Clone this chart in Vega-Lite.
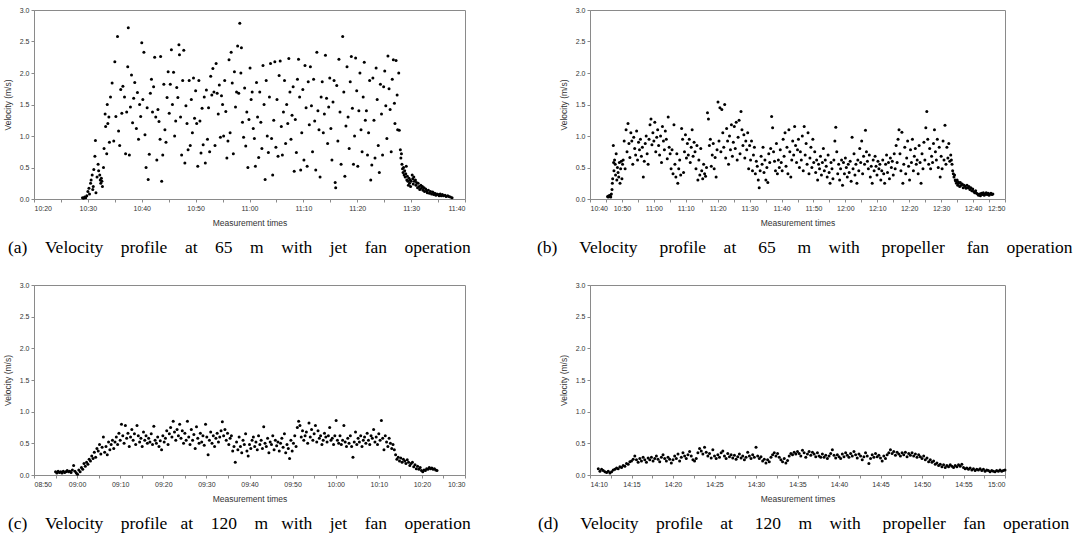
{
"$schema": "https://vega.github.io/schema/vega-lite/v6.json",
"background": "white",
"padding": {"left": 2, "top": 5, "right": 5, "bottom": 5},
"config": {
  "view": {"stroke": "#8a8a8a", "strokeWidth": 1},
  "axis": {"labelFont": "Liberation Sans Narrow, Liberation Sans, sans-serif", "labelFontSize": 7, "labelColor": "#333", "titleFont": "Liberation Sans Narrow, Liberation Sans, sans-serif", "titleFontSize": 8.5, "titleFontWeight": "normal", "titleColor": "#333", "domainColor": "#8a8a8a", "tickColor": "#8a8a8a", "tickSize": 3, "grid": false, "labelPadding": 2, "titlePadding": 7},
  "title": {"font": "Liberation Serif", "fontSize": 17.5, "fontWeight": "normal", "color": "#000", "orient": "bottom", "anchor": "start", "frame": "group", "offset": 12},
  "point": {"filled": true, "size": 9, "color": "#000", "opacity": 1}
},
"columns": 2,
"spacing": {"row": 86, "column": 125},
"bounds": "flush",
"datasets": {
"a": [
{"t":629.0,"v":0.02},{"t":629.2,"v":0.01},{"t":629.4,"v":0.03},{"t":629.6,"v":0.02},{"t":629.8,"v":0.05},{"t":630.0,"v":0.12},{"t":630.2,"v":0.17},{"t":630.3,"v":0.08},{"t":630.5,"v":0.25},{"t":630.6,"v":0.3},{"t":630.8,"v":0.38},{"t":630.9,"v":0.15},{"t":631.0,"v":0.2},{"t":631.1,"v":0.47},{"t":631.3,"v":0.68},{"t":631.4,"v":0.93},{"t":631.5,"v":0.1},{"t":631.7,"v":0.35},{"t":631.9,"v":0.55},{"t":632.0,"v":0.45},{"t":632.2,"v":0.38},{"t":632.3,"v":0.3},{"t":632.4,"v":0.25},{"t":632.5,"v":0.33},{"t":632.6,"v":0.28},{"t":632.7,"v":0.2},{"t":632.9,"v":0.5},{"t":633.0,"v":0.8},{"t":633.2,"v":1.35},{"t":633.3,"v":1.15},{"t":633.5,"v":0.72},{"t":633.6,"v":1.5},{"t":633.7,"v":1.2},{"t":633.9,"v":1.3},{"t":634.0,"v":0.9},
{"t":634.2,"v":1.62},{"t":634.5,"v":1.84},{"t":634.8,"v":0.92},{"t":635.0,"v":2.18},{"t":635.2,"v":1.31},{"t":635.5,"v":2.58},{"t":635.7,"v":1.08},{"t":635.9,"v":0.85},{"t":636.1,"v":1.74},{"t":636.3,"v":1.36},{"t":636.5,"v":1.79},{"t":636.8,"v":1.62},{"t":637.0,"v":0.72},{"t":637.2,"v":1.38},{"t":637.4,"v":2.1},{"t":637.5,"v":2.72},{"t":637.7,"v":0.7},{"t":637.9,"v":1.46},{"t":638.1,"v":1.97},{"t":638.3,"v":1.21},{"t":638.5,"v":1.6},{"t":638.7,"v":1.85},{"t":639.0,"v":1.12},{"t":639.2,"v":1.69},{"t":639.4,"v":0.95},{"t":639.6,"v":1.5},{"t":639.8,"v":1.31},{"t":640.0,"v":2.48},{"t":640.2,"v":1.58},{"t":640.4,"v":2.33},{"t":640.6,"v":1.02},{"t":640.8,"v":0.5},{"t":641.0,"v":1.45},{"t":641.2,"v":0.31},{"t":641.4,"v":0.71},{"t":641.6,"v":1.68},{"t":641.8,"v":1.9},{"t":642.0,"v":1.38},{"t":642.2,"v":1.78},{"t":642.4,"v":2.25},{"t":642.6,"v":1.3},{"t":642.8,"v":0.62},{"t":643.0,"v":1.42},{"t":643.2,"v":1.23},{"t":643.4,"v":0.95},{"t":643.5,"v":2.26},{"t":643.7,"v":0.28},{"t":643.9,"v":0.7},{"t":644.1,"v":1.82},{"t":644.3,"v":1.1},{"t":644.5,"v":0.9},{"t":644.7,"v":1.61},{"t":644.9,"v":2.02},{"t":645.1,"v":1.36},{"t":645.3,"v":1.82},{"t":645.5,"v":2.37},{"t":645.7,"v":1.5},{"t":645.9,"v":2.01},{"t":646.1,"v":1.0},{"t":646.3,"v":1.24},{"t":646.5,"v":1.77},{"t":646.7,"v":1.61},{"t":646.9,"v":2.45},{"t":647.0,"v":2.29},{"t":647.2,"v":1.3},{"t":647.4,"v":0.7},{"t":647.6,"v":1.88},{"t":647.8,"v":2.36},{"t":648.0,"v":0.57},{"t":648.2,"v":1.48},{"t":648.4,"v":1.2},{"t":648.6,"v":0.78},{"t":648.8,"v":1.88},{"t":649.0,"v":0.85},{"t":649.2,"v":1.58},{"t":649.4,"v":1.05},{"t":649.6,"v":1.92},{"t":649.8,"v":1.28},{"t":650.0,"v":1.72},{"t":650.2,"v":1.2},{"t":650.4,"v":0.52},{"t":650.6,"v":1.88},{"t":650.8,"v":1.24},{"t":651.0,"v":0.73},{"t":651.2,"v":1.44},{"t":651.4,"v":0.86},{"t":651.6,"v":1.62},{"t":651.8,"v":0.57},{"t":652.0,"v":1.73},{"t":652.2,"v":0.95},{"t":652.4,"v":1.45},{"t":652.6,"v":0.75},{"t":652.8,"v":1.95},{"t":653.0,"v":1.65},{"t":653.2,"v":2.07},{"t":653.4,"v":1.7},{"t":653.6,"v":0.85},{"t":653.8,"v":2.15},{"t":654.0,"v":1.68},{"t":654.2,"v":1.35},{"t":654.4,"v":1.81},{"t":654.6,"v":0.98},{"t":654.8,"v":1.64},{"t":655.0,"v":1.5},{"t":655.2,"v":1.0},{"t":655.4,"v":1.88},{"t":655.6,"v":1.39},{"t":655.8,"v":0.65},{"t":656.0,"v":0.92},{"t":656.2,"v":2.21},{"t":656.4,"v":1.05},{"t":656.6,"v":2.33},{"t":656.8,"v":1.84},{"t":657.0,"v":0.72},{"t":657.2,"v":2.02},{"t":657.4,"v":1.46},{"t":657.6,"v":1.7},{"t":657.8,"v":2.43},{"t":658.0,"v":1.68},{"t":658.2,"v":2.79},{"t":658.4,"v":2.0},{"t":658.5,"v":2.4},{"t":658.7,"v":1.22},{"t":658.9,"v":0.98},{"t":659.1,"v":1.76},{"t":659.3,"v":0.84},{"t":659.5,"v":1.38},{"t":659.7,"v":0.5},{"t":659.9,"v":1.26},{"t":660.1,"v":2.08},{"t":660.3,"v":1.58},{"t":660.5,"v":1.7},{"t":660.7,"v":1.12},{"t":660.9,"v":0.96},{"t":661.1,"v":0.52},{"t":661.3,"v":1.85},{"t":661.5,"v":1.3},{"t":661.7,"v":0.66},{"t":661.9,"v":1.7},{"t":662.1,"v":1.22},{"t":662.3,"v":0.8},{"t":662.5,"v":2.12},{"t":662.7,"v":1.5},{"t":662.9,"v":0.31},{"t":663.1,"v":1.88},{"t":663.3,"v":1.0},{"t":663.5,"v":0.74},{"t":663.7,"v":1.62},{"t":663.9,"v":2.15},{"t":664.1,"v":0.96},{"t":664.3,"v":0.38},{"t":664.5,"v":1.25},{"t":664.7,"v":2.18},{"t":664.9,"v":0.82},{"t":665.1,"v":1.58},{"t":665.3,"v":0.68},{"t":665.5,"v":1.96},{"t":665.7,"v":2.19},{"t":665.9,"v":1.15},{"t":666.1,"v":0.7},{"t":666.3,"v":1.38},{"t":666.5,"v":1.88},{"t":666.7,"v":0.88},{"t":666.9,"v":1.5},{"t":667.1,"v":1.2},{"t":667.3,"v":2.23},{"t":667.5,"v":1.7},{"t":667.7,"v":0.95},{"t":667.9,"v":1.33},{"t":668.1,"v":1.78},{"t":668.3,"v":0.44},{"t":668.5,"v":1.26},{"t":668.7,"v":0.74},{"t":668.9,"v":1.9},{"t":669.1,"v":2.22},{"t":669.3,"v":1.62},{"t":669.5,"v":0.46},{"t":669.7,"v":1.05},{"t":669.9,"v":1.74},{"t":670.1,"v":0.62},{"t":670.3,"v":2.12},{"t":670.5,"v":1.45},{"t":670.7,"v":0.52},{"t":670.9,"v":1.86},{"t":671.1,"v":1.18},{"t":671.3,"v":2.1},{"t":671.5,"v":1.48},{"t":671.7,"v":0.75},{"t":671.9,"v":1.9},{"t":672.1,"v":1.24},{"t":672.3,"v":0.46},{"t":672.5,"v":2.33},{"t":672.7,"v":1.4},{"t":672.9,"v":1.1},{"t":673.1,"v":0.35},{"t":673.3,"v":1.62},{"t":673.5,"v":1.86},{"t":673.7,"v":1.05},{"t":673.9,"v":1.35},{"t":674.1,"v":2.28},{"t":674.3,"v":1.6},{"t":674.5,"v":0.88},{"t":674.7,"v":1.46},{"t":674.9,"v":1.92},{"t":675.1,"v":1.12},{"t":675.3,"v":0.62},{"t":675.5,"v":1.54},{"t":675.7,"v":1.88},{"t":675.9,"v":0.26},{"t":676.0,"v":0.18},{"t":676.2,"v":1.8},{"t":676.4,"v":0.92},{"t":676.6,"v":2.22},{"t":676.8,"v":1.38},{"t":677.0,"v":0.55},{"t":677.3,"v":2.58},{"t":677.5,"v":1.7},{"t":677.7,"v":0.36},{"t":677.9,"v":1.16},{"t":678.1,"v":2.1},{"t":678.3,"v":1.3},{"t":678.5,"v":0.8},{"t":678.7,"v":1.86},{"t":678.9,"v":2.26},{"t":679.1,"v":1.44},{"t":679.3,"v":0.55},{"t":679.5,"v":1.0},{"t":679.7,"v":2.24},{"t":679.9,"v":1.72},{"t":680.1,"v":0.52},{"t":680.3,"v":1.4},{"t":680.5,"v":2.0},{"t":680.7,"v":1.1},{"t":680.9,"v":0.75},{"t":681.1,"v":1.62},{"t":681.3,"v":2.17},{"t":681.5,"v":1.25},{"t":681.7,"v":1.4},{"t":681.9,"v":0.7},{"t":682.1,"v":1.05},{"t":682.3,"v":1.88},{"t":682.5,"v":0.3},{"t":682.7,"v":0.54},{"t":682.9,"v":1.92},{"t":683.1,"v":1.25},{"t":683.3,"v":0.65},{"t":683.5,"v":2.08},{"t":683.7,"v":1.58},{"t":683.9,"v":0.85},{"t":684.1,"v":0.42},{"t":684.3,"v":1.82},{"t":684.5,"v":1.35},{"t":684.7,"v":0.7},{"t":684.9,"v":1.78},{"t":685.1,"v":2.03},{"t":685.3,"v":1.48},{"t":685.5,"v":0.96},{"t":685.7,"v":2.27},{"t":685.9,"v":1.75},{"t":686.1,"v":1.42},{"t":686.3,"v":0.75},{"t":686.5,"v":1.9},{"t":686.7,"v":2.21},{"t":686.9,"v":1.52},{"t":687.0,"v":1.2},{"t":687.2,"v":2.2},{"t":687.4,"v":1.65},{"t":687.5,"v":1.1},{"t":687.7,"v":2.0},{"t":687.8,"v":1.09},{"t":688.0,"v":0.78},
{"t":688.1,"v":0.65},{"t":688.2,"v":0.72},{"t":688.3,"v":0.55},{"t":688.4,"v":0.48},{"t":688.5,"v":0.42},{"t":688.6,"v":0.5},{"t":688.7,"v":0.38},{"t":688.8,"v":0.45},{"t":688.9,"v":0.35},{"t":689.0,"v":0.4},{"t":689.1,"v":0.52},{"t":689.2,"v":0.3},{"t":689.3,"v":0.36},{"t":689.4,"v":0.28},{"t":689.5,"v":0.22},{"t":689.6,"v":0.33},{"t":689.7,"v":0.25},{"t":689.8,"v":0.3},{"t":689.9,"v":0.2},{"t":690.0,"v":0.28},{"t":690.2,"v":0.38},{"t":690.3,"v":0.32},{"t":690.4,"v":0.24},{"t":690.5,"v":0.35},{"t":690.6,"v":0.28},{"t":690.8,"v":0.3},{"t":690.9,"v":0.22},{"t":691.0,"v":0.26},{"t":691.2,"v":0.18},{"t":691.3,"v":0.25},{"t":691.5,"v":0.2},{"t":691.6,"v":0.15},{"t":691.8,"v":0.22},{"t":691.9,"v":0.17},{"t":692.1,"v":0.2},{"t":692.2,"v":0.14},{"t":692.4,"v":0.18},{"t":692.5,"v":0.12},{"t":692.7,"v":0.16},{"t":692.9,"v":0.13},{"t":693.0,"v":0.1},{"t":693.2,"v":0.14},{"t":693.4,"v":0.09},{"t":693.6,"v":0.12},{"t":693.8,"v":0.08},{"t":694.0,"v":0.11},{"t":694.2,"v":0.07},{"t":694.4,"v":0.09},{"t":694.6,"v":0.06},{"t":694.8,"v":0.08},{"t":695.0,"v":0.07},{"t":695.2,"v":0.05},{"t":695.4,"v":0.08},{"t":695.6,"v":0.05},{"t":695.8,"v":0.07},{"t":696.0,"v":0.05},{"t":696.3,"v":0.06},{"t":696.5,"v":0.04},{"t":696.8,"v":0.05},{"t":697.0,"v":0.04},{"t":697.3,"v":0.03},{"t":697.6,"v":0.02}
],
"b": [
{"t":645.5,"v":0.04},{"t":645.7,"v":0.03},{"t":645.9,"v":0.05},{"t":646.1,"v":0.04},{"t":646.3,"v":0.06},{"t":646.5,"v":0.03},{"t":646.7,"v":0.08},{"t":646.9,"v":0.15},{"t":647.0,"v":0.25},{"t":647.1,"v":0.32},{"t":647.3,"v":0.85},{"t":647.4,"v":0.58},{"t":647.5,"v":0.45},{"t":647.7,"v":0.62},{"t":647.9,"v":0.55},{"t":648.0,"v":0.38},{"t":648.2,"v":0.72},{"t":648.4,"v":0.3},{"t":648.6,"v":0.5},{"t":648.8,"v":0.42},{"t":649.0,"v":0.35},{"t":649.2,"v":0.58},{"t":649.4,"v":0.25},{"t":649.6,"v":0.48},{"t":649.8,"v":0.6},{"t":650.0,"v":0.32},{"t":650.2,"v":0.55},
{"t":650.4,"v":0.62},{"t":650.7,"v":0.92},{"t":651.0,"v":0.48},{"t":651.3,"v":1.1},{"t":651.6,"v":0.75},{"t":651.9,"v":1.2},{"t":652.2,"v":0.88},{"t":652.5,"v":0.66},{"t":652.8,"v":1.05},{"t":653.1,"v":0.92},{"t":653.4,"v":0.55},{"t":653.7,"v":0.98},{"t":654.0,"v":0.8},{"t":654.3,"v":0.7},{"t":654.6,"v":1.08},{"t":654.9,"v":0.62},{"t":655.2,"v":0.9},{"t":655.5,"v":0.78},{"t":655.8,"v":0.95},{"t":656.1,"v":0.68},{"t":656.4,"v":0.82},{"t":656.7,"v":0.35},{"t":657.0,"v":0.6},{"t":657.3,"v":0.88},{"t":657.6,"v":1.0},{"t":657.9,"v":0.72},{"t":658.2,"v":0.55},{"t":658.5,"v":0.95},{"t":658.8,"v":1.18},{"t":659.1,"v":1.27},{"t":659.4,"v":0.86},{"t":659.7,"v":1.05},{"t":660.0,"v":0.92},{"t":660.3,"v":1.22},{"t":660.6,"v":0.75},{"t":660.9,"v":0.98},{"t":661.2,"v":1.1},{"t":661.5,"v":0.85},{"t":661.8,"v":0.7},{"t":662.1,"v":1.0},{"t":662.4,"v":0.58},{"t":662.7,"v":1.15},{"t":663.0,"v":0.92},{"t":663.3,"v":0.78},{"t":663.6,"v":1.08},{"t":663.9,"v":0.95},{"t":664.2,"v":0.64},{"t":664.5,"v":1.3},{"t":664.8,"v":0.82},{"t":665.1,"v":0.72},{"t":665.4,"v":0.48},{"t":665.7,"v":0.78},{"t":666.0,"v":0.4},{"t":666.3,"v":1.18},{"t":666.6,"v":0.55},{"t":666.9,"v":0.35},{"t":667.2,"v":0.72},{"t":667.5,"v":0.25},{"t":667.8,"v":0.48},{"t":668.1,"v":0.62},{"t":668.4,"v":0.38},{"t":668.7,"v":1.12},{"t":669.0,"v":0.95},{"t":669.3,"v":0.42},{"t":669.6,"v":0.75},{"t":669.9,"v":1.02},{"t":670.2,"v":0.65},{"t":670.5,"v":0.88},{"t":670.8,"v":0.7},{"t":671.1,"v":0.95},{"t":671.4,"v":0.58},{"t":671.7,"v":0.82},{"t":672.0,"v":1.1},{"t":672.3,"v":0.68},{"t":672.6,"v":0.9},{"t":672.9,"v":0.75},{"t":673.2,"v":0.48},{"t":673.5,"v":0.85},{"t":673.8,"v":0.3},{"t":674.1,"v":0.62},{"t":674.4,"v":0.38},{"t":674.7,"v":0.8},{"t":675.0,"v":0.45},{"t":675.3,"v":0.32},{"t":675.6,"v":0.55},{"t":675.9,"v":0.4},{"t":676.2,"v":0.36},{"t":676.5,"v":0.5},{"t":676.8,"v":1.37},{"t":677.1,"v":1.27},{"t":677.4,"v":0.85},{"t":677.7,"v":0.95},{"t":678.0,"v":0.52},{"t":678.3,"v":0.7},{"t":678.6,"v":0.88},{"t":678.9,"v":0.48},{"t":679.2,"v":0.66},{"t":679.5,"v":0.35},{"t":679.8,"v":0.78},{"t":680.1,"v":1.54},{"t":680.4,"v":0.92},{"t":680.7,"v":1.45},{"t":681.0,"v":0.75},{"t":681.3,"v":1.42},{"t":681.6,"v":1.05},{"t":681.9,"v":0.82},{"t":682.2,"v":1.5},{"t":682.5,"v":0.65},{"t":682.8,"v":1.12},{"t":683.1,"v":0.92},{"t":683.4,"v":0.55},{"t":683.7,"v":1.0},{"t":684.0,"v":0.78},{"t":684.3,"v":1.18},{"t":684.6,"v":0.68},{"t":684.9,"v":0.9},{"t":685.2,"v":1.15},{"t":685.5,"v":0.8},{"t":685.8,"v":1.22},{"t":686.1,"v":0.62},{"t":686.4,"v":0.98},{"t":686.7,"v":1.25},{"t":687.0,"v":0.72},{"t":687.3,"v":1.39},{"t":687.6,"v":1.1},{"t":687.9,"v":0.85},{"t":688.2,"v":1.02},{"t":688.5,"v":0.65},{"t":688.8,"v":0.92},{"t":689.1,"v":0.78},{"t":689.4,"v":1.05},{"t":689.7,"v":0.48},{"t":690.0,"v":0.85},{"t":690.3,"v":0.62},{"t":690.6,"v":0.92},{"t":690.9,"v":0.45},{"t":691.2,"v":0.7},{"t":691.5,"v":0.82},{"t":691.8,"v":0.4},{"t":692.1,"v":0.6},{"t":692.4,"v":0.52},{"t":692.7,"v":0.3},{"t":693.0,"v":0.18},{"t":693.3,"v":0.45},{"t":693.6,"v":0.68},{"t":693.9,"v":0.55},{"t":694.2,"v":0.82},{"t":694.5,"v":0.42},{"t":694.8,"v":0.62},{"t":695.1,"v":0.3},{"t":695.4,"v":0.5},{"t":695.7,"v":0.26},{"t":696.0,"v":0.72},{"t":696.3,"v":0.58},{"t":696.6,"v":0.8},{"t":696.9,"v":1.31},{"t":697.2,"v":1.13},{"t":697.5,"v":0.75},{"t":697.8,"v":0.6},{"t":698.1,"v":0.45},{"t":698.4,"v":0.88},{"t":698.7,"v":0.4},{"t":699.0,"v":0.62},{"t":699.3,"v":0.5},{"t":699.6,"v":0.78},{"t":699.9,"v":0.58},{"t":700.2,"v":0.45},{"t":700.5,"v":0.95},{"t":700.8,"v":0.68},{"t":701.1,"v":1.05},{"t":701.4,"v":0.52},{"t":701.7,"v":0.82},{"t":702.0,"v":0.4},{"t":702.3,"v":1.1},{"t":702.6,"v":0.75},{"t":702.9,"v":0.35},{"t":703.2,"v":0.62},{"t":703.5,"v":0.92},{"t":703.8,"v":0.7},{"t":704.1,"v":1.15},{"t":704.4,"v":0.85},{"t":704.7,"v":0.58},{"t":705.0,"v":0.78},{"t":705.3,"v":0.95},{"t":705.6,"v":0.5},{"t":705.9,"v":0.75},{"t":706.2,"v":0.62},{"t":706.5,"v":1.0},{"t":706.8,"v":0.45},{"t":707.1,"v":1.15},{"t":707.4,"v":0.7},{"t":707.7,"v":0.88},{"t":708.0,"v":0.55},{"t":708.3,"v":1.05},{"t":708.6,"v":0.4},{"t":708.9,"v":0.65},{"t":709.2,"v":0.82},{"t":709.5,"v":0.5},{"t":709.8,"v":0.95},{"t":710.1,"v":0.58},{"t":710.4,"v":0.75},{"t":710.7,"v":0.42},{"t":711.0,"v":0.62},{"t":711.3,"v":0.3},{"t":711.6,"v":0.55},{"t":711.9,"v":0.48},{"t":712.2,"v":0.68},{"t":712.5,"v":0.38},{"t":712.8,"v":0.58},{"t":713.1,"v":0.8},{"t":713.4,"v":0.45},{"t":713.7,"v":0.62},{"t":714.0,"v":0.52},{"t":714.3,"v":0.35},{"t":714.6,"v":0.7},{"t":714.9,"v":0.42},{"t":715.2,"v":0.25},{"t":715.5,"v":0.58},{"t":715.8,"v":0.48},{"t":716.1,"v":0.32},{"t":716.4,"v":0.62},{"t":716.7,"v":0.92},{"t":717.0,"v":1.14},{"t":717.3,"v":0.75},{"t":717.6,"v":0.4},{"t":717.9,"v":0.55},{"t":718.2,"v":0.3},{"t":718.5,"v":0.48},{"t":718.8,"v":0.62},{"t":719.1,"v":0.22},{"t":719.4,"v":0.58},{"t":719.7,"v":0.4},{"t":720.0,"v":0.65},{"t":720.3,"v":0.5},{"t":720.6,"v":0.35},{"t":720.9,"v":0.55},{"t":721.2,"v":0.42},{"t":721.5,"v":0.6},{"t":721.8,"v":0.28},{"t":722.1,"v":0.98},{"t":722.4,"v":0.48},{"t":722.7,"v":0.72},{"t":723.0,"v":0.38},{"t":723.3,"v":0.55},{"t":723.6,"v":0.25},{"t":723.9,"v":0.62},{"t":724.2,"v":0.45},{"t":724.5,"v":0.8},{"t":724.8,"v":0.58},{"t":725.1,"v":0.92},{"t":725.4,"v":0.4},{"t":725.7,"v":0.68},{"t":726.0,"v":0.55},{"t":726.3,"v":1.09},{"t":726.6,"v":0.75},{"t":726.9,"v":0.6},{"t":727.2,"v":0.48},{"t":727.5,"v":0.7},{"t":727.8,"v":0.35},{"t":728.1,"v":0.52},{"t":728.4,"v":0.25},{"t":728.7,"v":0.62},{"t":729.0,"v":0.45},{"t":729.3,"v":0.68},{"t":729.6,"v":0.52},{"t":729.9,"v":0.38},{"t":730.2,"v":0.6},{"t":730.5,"v":0.48},{"t":730.8,"v":0.55},{"t":731.1,"v":0.3},{"t":731.4,"v":0.45},{"t":731.7,"v":0.62},{"t":732.0,"v":0.4},{"t":732.3,"v":0.25},{"t":732.6,"v":0.55},{"t":732.9,"v":0.7},{"t":733.2,"v":0.42},{"t":733.5,"v":0.58},{"t":733.8,"v":0.32},{"t":734.1,"v":0.65},{"t":734.4,"v":0.5},{"t":734.7,"v":0.6},{"t":735.0,"v":0.38},{"t":735.3,"v":0.72},{"t":735.6,"v":0.48},{"t":735.9,"v":0.85},{"t":736.2,"v":0.58},{"t":736.5,"v":0.95},{"t":736.8,"v":1.1},{"t":737.1,"v":0.72},{"t":737.4,"v":0.45},{"t":737.7,"v":1.06},{"t":738.0,"v":0.25},{"t":738.3,"v":0.55},{"t":738.6,"v":0.82},{"t":738.9,"v":0.4},{"t":739.2,"v":0.65},{"t":739.5,"v":0.92},{"t":739.8,"v":0.52},{"t":740.1,"v":0.3},{"t":740.4,"v":0.78},{"t":740.7,"v":0.58},{"t":741.0,"v":0.95},{"t":741.3,"v":0.45},{"t":741.6,"v":0.68},{"t":741.9,"v":0.8},{"t":742.2,"v":0.55},{"t":742.5,"v":0.62},{"t":742.8,"v":0.4},{"t":743.1,"v":0.85},{"t":743.4,"v":0.58},{"t":743.7,"v":0.25},{"t":744.0,"v":0.72},{"t":744.3,"v":0.48},{"t":744.6,"v":0.9},{"t":744.9,"v":0.62},{"t":745.2,"v":1.13},{"t":745.5,"v":1.39},{"t":745.8,"v":0.95},{"t":746.1,"v":0.55},{"t":746.4,"v":0.8},{"t":746.7,"v":0.48},{"t":747.0,"v":0.68},{"t":747.3,"v":0.58},{"t":747.6,"v":0.88},{"t":747.9,"v":1.1},{"t":748.2,"v":0.75},{"t":748.5,"v":0.62},{"t":748.8,"v":0.95},{"t":749.1,"v":0.5},{"t":749.4,"v":0.82},{"t":749.7,"v":0.35},{"t":750.0,"v":0.68},{"t":750.3,"v":0.48},{"t":750.6,"v":0.92},{"t":750.9,"v":0.62},{"t":751.2,"v":1.17},{"t":751.5,"v":0.55},{"t":751.8,"v":0.82},{"t":752.1,"v":0.65},{"t":752.4,"v":0.88},{"t":752.7,"v":0.6},{"t":753.0,"v":0.7},
{"t":753.2,"v":0.62},{"t":753.4,"v":0.55},{"t":753.6,"v":0.45},{"t":753.8,"v":0.4},{"t":754.0,"v":0.35},{"t":754.2,"v":0.38},{"t":754.4,"v":0.3},{"t":754.6,"v":0.28},{"t":754.8,"v":0.25},{"t":755.0,"v":0.3},{"t":755.2,"v":0.22},{"t":755.4,"v":0.27},{"t":755.6,"v":0.25},{"t":755.8,"v":0.2},{"t":756.0,"v":0.26},{"t":756.3,"v":0.22},{"t":756.6,"v":0.24},{"t":756.9,"v":0.18},{"t":757.2,"v":0.22},{"t":757.5,"v":0.2},{"t":757.8,"v":0.17},{"t":758.1,"v":0.22},{"t":758.4,"v":0.18},{"t":758.7,"v":0.2},{"t":759.0,"v":0.15},{"t":759.3,"v":0.18},{"t":759.6,"v":0.13},{"t":759.9,"v":0.16},{"t":760.2,"v":0.12},{"t":760.5,"v":0.1},{"t":760.8,"v":0.13},{"t":761.1,"v":0.09},{"t":761.4,"v":0.08},{"t":761.7,"v":0.06},{"t":762.0,"v":0.08},{"t":762.3,"v":0.05},{"t":762.6,"v":0.09},{"t":762.9,"v":0.07},{"t":763.2,"v":0.1},{"t":763.5,"v":0.06},{"t":763.8,"v":0.08},{"t":764.1,"v":0.1},{"t":764.4,"v":0.07},{"t":764.7,"v":0.09},{"t":765.0,"v":0.06},{"t":765.3,"v":0.08},{"t":765.6,"v":0.09},{"t":765.9,"v":0.07},{"t":766.2,"v":0.08}
],
"c": [
{"t":535.0,"v":0.05},{"t":535.3,"v":0.03},{"t":535.6,"v":0.06},{"t":535.9,"v":0.04},{"t":536.2,"v":0.05},{"t":536.5,"v":0.03},{"t":536.8,"v":0.06},{"t":537.1,"v":0.04},{"t":537.4,"v":0.05},{"t":537.7,"v":0.07},{"t":538.0,"v":0.05},{"t":538.3,"v":0.06},{"t":538.6,"v":0.04},{"t":538.9,"v":0.08},{"t":539.2,"v":0.15},{"t":539.5,"v":0.06},{"t":539.8,"v":0.03},{"t":540.1,"v":0.01},{"t":540.4,"v":0.08},{"t":540.7,"v":0.05},{"t":541.0,"v":0.12},{"t":541.3,"v":0.09},{"t":541.6,"v":0.18},{"t":541.9,"v":0.14},{"t":542.2,"v":0.2},{"t":542.5,"v":0.17},{"t":542.8,"v":0.25},{"t":543.1,"v":0.22},{"t":543.4,"v":0.3},{"t":543.7,"v":0.26},{"t":544.0,"v":0.36},{"t":544.3,"v":0.28},{"t":544.6,"v":0.42},{"t":544.9,"v":0.38},{"t":545.2,"v":0.48},{"t":545.5,"v":0.33},{"t":545.8,"v":0.44},{"t":546.1,"v":0.6},{"t":546.4,"v":0.36},{"t":546.7,"v":0.45},{"t":547.0,"v":0.32},{"t":547.3,"v":0.52},{"t":547.6,"v":0.4},{"t":547.9,"v":0.48},{"t":548.2,"v":0.55},{"t":548.5,"v":0.42},{"t":548.8,"v":0.52},{"t":549.1,"v":0.6},{"t":549.4,"v":0.48},{"t":549.7,"v":0.66},{"t":550.0,"v":0.55},{"t":550.3,"v":0.8},{"t":550.6,"v":0.62},{"t":550.9,"v":0.5},{"t":551.2,"v":0.78},{"t":551.5,"v":0.58},{"t":551.8,"v":0.66},{"t":552.1,"v":0.45},{"t":552.4,"v":0.6},{"t":552.7,"v":0.72},{"t":553.0,"v":0.55},{"t":553.3,"v":0.65},{"t":553.6,"v":0.48},{"t":553.9,"v":0.78},{"t":554.2,"v":0.62},{"t":554.5,"v":0.52},{"t":554.8,"v":0.58},{"t":555.1,"v":0.45},{"t":555.4,"v":0.68},{"t":555.7,"v":0.55},{"t":556.0,"v":0.62},{"t":556.3,"v":0.5},{"t":556.6,"v":0.58},{"t":556.9,"v":0.52},{"t":557.2,"v":0.65},{"t":557.5,"v":0.48},{"t":557.8,"v":0.77},{"t":558.1,"v":0.55},{"t":558.4,"v":0.5},{"t":558.7,"v":0.6},{"t":559.0,"v":0.45},{"t":559.3,"v":0.54},{"t":559.6,"v":0.4},{"t":559.9,"v":0.62},{"t":560.2,"v":0.52},{"t":560.5,"v":0.58},{"t":560.8,"v":0.7},{"t":561.1,"v":0.48},{"t":561.4,"v":0.65},{"t":561.7,"v":0.75},{"t":562.0,"v":0.6},{"t":562.3,"v":0.85},{"t":562.6,"v":0.68},{"t":562.9,"v":0.55},{"t":563.2,"v":0.72},{"t":563.5,"v":0.62},{"t":563.8,"v":0.8},{"t":564.1,"v":0.58},{"t":564.4,"v":0.7},{"t":564.7,"v":0.5},{"t":565.0,"v":0.66},{"t":565.3,"v":0.55},{"t":565.6,"v":0.85},{"t":565.9,"v":0.6},{"t":566.2,"v":0.48},{"t":566.5,"v":0.72},{"t":566.8,"v":0.55},{"t":567.1,"v":0.64},{"t":567.4,"v":0.42},{"t":567.7,"v":0.76},{"t":568.0,"v":0.58},{"t":568.3,"v":0.5},{"t":568.6,"v":0.66},{"t":568.9,"v":0.52},{"t":569.2,"v":0.62},{"t":569.5,"v":0.47},{"t":569.8,"v":0.8},{"t":570.1,"v":0.6},{"t":570.4,"v":0.32},{"t":570.7,"v":0.55},{"t":571.0,"v":0.68},{"t":571.3,"v":0.5},{"t":571.6,"v":0.62},{"t":571.9,"v":0.45},{"t":572.2,"v":0.58},{"t":572.5,"v":0.66},{"t":572.8,"v":0.52},{"t":573.1,"v":0.6},{"t":573.4,"v":0.7},{"t":573.7,"v":0.84},{"t":574.0,"v":0.62},{"t":574.3,"v":0.72},{"t":574.6,"v":0.55},{"t":574.9,"v":0.66},{"t":575.2,"v":0.48},{"t":575.5,"v":0.58},{"t":575.8,"v":0.62},{"t":576.1,"v":0.38},{"t":576.4,"v":0.45},{"t":576.7,"v":0.2},{"t":577.0,"v":0.52},{"t":577.3,"v":0.4},{"t":577.6,"v":0.6},{"t":577.9,"v":0.45},{"t":578.2,"v":0.35},{"t":578.5,"v":0.55},{"t":578.8,"v":0.48},{"t":579.1,"v":0.65},{"t":579.4,"v":0.38},{"t":579.7,"v":0.3},{"t":580.0,"v":0.48},{"t":580.3,"v":0.42},{"t":580.6,"v":0.55},{"t":580.9,"v":0.6},{"t":581.2,"v":0.45},{"t":581.5,"v":0.52},{"t":581.8,"v":0.4},{"t":582.1,"v":0.62},{"t":582.4,"v":0.48},{"t":582.7,"v":0.55},{"t":583.0,"v":0.42},{"t":583.3,"v":0.76},{"t":583.6,"v":0.5},{"t":583.9,"v":0.45},{"t":584.2,"v":0.58},{"t":584.5,"v":0.35},{"t":584.8,"v":0.52},{"t":585.1,"v":0.48},{"t":585.4,"v":0.62},{"t":585.7,"v":0.4},{"t":586.0,"v":0.55},{"t":586.3,"v":0.46},{"t":586.6,"v":0.52},{"t":586.9,"v":0.38},{"t":587.2,"v":0.5},{"t":587.5,"v":0.58},{"t":587.8,"v":0.44},{"t":588.1,"v":0.65},{"t":588.4,"v":0.35},{"t":588.7,"v":0.48},{"t":589.0,"v":0.42},{"t":589.3,"v":0.26},{"t":589.6,"v":0.55},{"t":589.9,"v":0.38},{"t":590.2,"v":0.5},{"t":590.5,"v":0.62},{"t":590.8,"v":0.45},{"t":591.1,"v":0.75},{"t":591.4,"v":0.85},{"t":591.7,"v":0.78},{"t":592.0,"v":0.6},{"t":592.3,"v":0.7},{"t":592.6,"v":0.55},{"t":592.9,"v":0.62},{"t":593.2,"v":0.68},{"t":593.5,"v":0.5},{"t":593.8,"v":0.82},{"t":594.1,"v":0.6},{"t":594.4,"v":0.72},{"t":594.7,"v":0.55},{"t":595.0,"v":0.65},{"t":595.3,"v":0.78},{"t":595.6,"v":0.52},{"t":595.9,"v":0.7},{"t":596.2,"v":0.58},{"t":596.5,"v":0.62},{"t":596.8,"v":0.48},{"t":597.1,"v":0.55},{"t":597.4,"v":0.66},{"t":597.7,"v":0.6},{"t":598.0,"v":0.52},{"t":598.3,"v":0.62},{"t":598.6,"v":0.75},{"t":598.9,"v":0.55},{"t":599.2,"v":0.58},{"t":599.5,"v":0.48},{"t":599.8,"v":0.62},{"t":600.1,"v":0.86},{"t":600.4,"v":0.55},{"t":600.7,"v":0.5},{"t":601.0,"v":0.62},{"t":601.3,"v":0.48},{"t":601.6,"v":0.55},{"t":601.9,"v":0.78},{"t":602.2,"v":0.52},{"t":602.5,"v":0.45},{"t":602.8,"v":0.58},{"t":603.1,"v":0.5},{"t":603.4,"v":0.62},{"t":603.7,"v":0.45},{"t":604.0,"v":0.28},{"t":604.3,"v":0.52},{"t":604.6,"v":0.68},{"t":604.9,"v":0.48},{"t":605.2,"v":0.58},{"t":605.5,"v":0.52},{"t":605.8,"v":0.62},{"t":606.1,"v":0.45},{"t":606.4,"v":0.55},{"t":606.7,"v":0.6},{"t":607.0,"v":0.5},{"t":607.3,"v":0.66},{"t":607.6,"v":0.55},{"t":607.9,"v":0.48},{"t":608.2,"v":0.62},{"t":608.5,"v":0.58},{"t":608.8,"v":0.72},{"t":609.1,"v":0.52},{"t":609.4,"v":0.6},{"t":609.7,"v":0.48},{"t":610.0,"v":0.65},{"t":610.3,"v":0.55},{"t":610.6,"v":0.86},{"t":610.9,"v":0.58},{"t":611.2,"v":0.4},{"t":611.5,"v":0.62},{"t":611.8,"v":0.52},{"t":612.1,"v":0.45},{"t":612.4,"v":0.58},{"t":612.7,"v":0.5},{"t":613.0,"v":0.42},{"t":613.3,"v":0.48},{"t":613.6,"v":0.4},{"t":613.9,"v":0.32},{"t":614.2,"v":0.25},{"t":614.5,"v":0.28},{"t":614.8,"v":0.22},{"t":615.1,"v":0.27},{"t":615.4,"v":0.2},{"t":615.7,"v":0.25},{"t":616.0,"v":0.22},{"t":616.3,"v":0.18},{"t":616.6,"v":0.24},{"t":616.9,"v":0.2},{"t":617.2,"v":0.15},{"t":617.5,"v":0.18},{"t":617.8,"v":0.2},{"t":618.1,"v":0.13},{"t":618.4,"v":0.16},{"t":618.7,"v":0.1},{"t":619.0,"v":0.14},{"t":619.3,"v":0.09},{"t":619.6,"v":0.12},{"t":619.9,"v":0.07},{"t":620.2,"v":0.05},{"t":620.5,"v":0.08},{"t":620.8,"v":0.07},{"t":621.1,"v":0.1},{"t":621.4,"v":0.09},{"t":621.7,"v":0.12},{"t":622.0,"v":0.1},{"t":622.3,"v":0.11},{"t":622.6,"v":0.09},{"t":622.9,"v":0.1},{"t":623.2,"v":0.08},{"t":623.5,"v":0.07}
],
"d": [
{"t":851.0,"v":0.1},{"t":851.2,"v":0.06},{"t":851.4,"v":0.09},{"t":851.6,"v":0.07},{"t":851.8,"v":0.05},{"t":852.0,"v":0.04},{"t":852.2,"v":0.06},{"t":852.4,"v":0.03},{"t":852.6,"v":0.05},{"t":852.8,"v":0.08},{"t":853.0,"v":0.09},{"t":853.2,"v":0.11},{"t":853.4,"v":0.1},{"t":853.6,"v":0.13},{"t":853.8,"v":0.12},{"t":854.0,"v":0.15},{"t":854.2,"v":0.14},{"t":854.4,"v":0.18},{"t":854.6,"v":0.17},{"t":854.8,"v":0.21},{"t":855.0,"v":0.22},{"t":855.2,"v":0.25},{"t":855.4,"v":0.3},{"t":855.6,"v":0.24},{"t":855.8,"v":0.2},{"t":856.0,"v":0.26},{"t":856.2,"v":0.22},{"t":856.4,"v":0.28},{"t":856.6,"v":0.24},{"t":856.8,"v":0.2},{"t":857.0,"v":0.27},{"t":857.2,"v":0.24},{"t":857.4,"v":0.28},{"t":857.6,"v":0.22},{"t":857.8,"v":0.26},{"t":858.0,"v":0.3},{"t":858.2,"v":0.25},{"t":858.4,"v":0.21},{"t":858.6,"v":0.28},{"t":858.8,"v":0.32},{"t":859.0,"v":0.26},{"t":859.2,"v":0.22},{"t":859.4,"v":0.28},{"t":859.6,"v":0.25},{"t":859.8,"v":0.19},{"t":860.0,"v":0.24},{"t":860.2,"v":0.3},{"t":860.4,"v":0.26},{"t":860.6,"v":0.33},{"t":860.8,"v":0.22},{"t":861.0,"v":0.28},{"t":861.2,"v":0.35},{"t":861.4,"v":0.3},{"t":861.6,"v":0.26},{"t":861.8,"v":0.32},{"t":862.0,"v":0.37},{"t":862.2,"v":0.3},{"t":862.4,"v":0.24},{"t":862.6,"v":0.22},{"t":862.8,"v":0.26},{"t":863.0,"v":0.35},{"t":863.2,"v":0.42},{"t":863.4,"v":0.38},{"t":863.6,"v":0.33},{"t":863.8,"v":0.44},{"t":864.0,"v":0.36},{"t":864.2,"v":0.3},{"t":864.4,"v":0.34},{"t":864.6,"v":0.27},{"t":864.8,"v":0.4},{"t":865.0,"v":0.3},{"t":865.2,"v":0.26},{"t":865.4,"v":0.32},{"t":865.6,"v":0.28},{"t":865.8,"v":0.35},{"t":866.0,"v":0.38},{"t":866.2,"v":0.3},{"t":866.4,"v":0.26},{"t":866.6,"v":0.34},{"t":866.8,"v":0.29},{"t":867.0,"v":0.32},{"t":867.2,"v":0.27},{"t":867.4,"v":0.31},{"t":867.6,"v":0.25},{"t":867.8,"v":0.29},{"t":868.0,"v":0.33},{"t":868.2,"v":0.27},{"t":868.4,"v":0.3},{"t":868.6,"v":0.24},{"t":868.8,"v":0.28},{"t":869.0,"v":0.36},{"t":869.2,"v":0.3},{"t":869.4,"v":0.26},{"t":869.6,"v":0.32},{"t":869.8,"v":0.28},{"t":870.0,"v":0.44},{"t":870.2,"v":0.3},{"t":870.4,"v":0.26},{"t":870.6,"v":0.29},{"t":870.8,"v":0.22},{"t":871.0,"v":0.25},{"t":871.2,"v":0.19},{"t":871.4,"v":0.24},{"t":871.6,"v":0.21},{"t":871.8,"v":0.28},{"t":872.0,"v":0.32},{"t":872.2,"v":0.35},{"t":872.4,"v":0.3},{"t":872.6,"v":0.34},{"t":872.8,"v":0.28},{"t":873.0,"v":0.24},{"t":873.2,"v":0.21},{"t":873.4,"v":0.26},{"t":873.6,"v":0.19},{"t":873.8,"v":0.23},{"t":874.0,"v":0.3},{"t":874.2,"v":0.34},{"t":874.4,"v":0.32},{"t":874.6,"v":0.36},{"t":874.8,"v":0.33},{"t":875.0,"v":0.37},{"t":875.2,"v":0.34},{"t":875.4,"v":0.3},{"t":875.6,"v":0.39},{"t":875.8,"v":0.35},{"t":876.0,"v":0.28},{"t":876.2,"v":0.33},{"t":876.4,"v":0.37},{"t":876.6,"v":0.31},{"t":876.8,"v":0.36},{"t":877.0,"v":0.33},{"t":877.2,"v":0.29},{"t":877.4,"v":0.35},{"t":877.6,"v":0.3},{"t":877.8,"v":0.28},{"t":878.0,"v":0.33},{"t":878.2,"v":0.28},{"t":878.4,"v":0.31},{"t":878.6,"v":0.26},{"t":878.8,"v":0.3},{"t":879.0,"v":0.34},{"t":879.2,"v":0.4},{"t":879.4,"v":0.31},{"t":879.6,"v":0.27},{"t":879.8,"v":0.32},{"t":880.0,"v":0.29},{"t":880.2,"v":0.26},{"t":880.4,"v":0.33},{"t":880.6,"v":0.29},{"t":880.8,"v":0.35},{"t":881.0,"v":0.31},{"t":881.2,"v":0.28},{"t":881.4,"v":0.34},{"t":881.6,"v":0.3},{"t":881.8,"v":0.37},{"t":882.0,"v":0.32},{"t":882.2,"v":0.27},{"t":882.4,"v":0.33},{"t":882.6,"v":0.3},{"t":882.8,"v":0.24},{"t":883.0,"v":0.29},{"t":883.2,"v":0.35},{"t":883.4,"v":0.3},{"t":883.6,"v":0.18},{"t":883.8,"v":0.26},{"t":884.0,"v":0.32},{"t":884.2,"v":0.28},{"t":884.4,"v":0.34},{"t":884.6,"v":0.29},{"t":884.8,"v":0.31},{"t":885.0,"v":0.27},{"t":885.2,"v":0.22},{"t":885.4,"v":0.3},{"t":885.6,"v":0.26},{"t":885.8,"v":0.32},{"t":886.0,"v":0.35},{"t":886.2,"v":0.4},{"t":886.4,"v":0.34},{"t":886.6,"v":0.37},{"t":886.8,"v":0.31},{"t":887.0,"v":0.36},{"t":887.2,"v":0.33},{"t":887.4,"v":0.3},{"t":887.6,"v":0.35},{"t":887.8,"v":0.32},{"t":888.0,"v":0.36},{"t":888.2,"v":0.29},{"t":888.4,"v":0.34},{"t":888.6,"v":0.31},{"t":888.8,"v":0.35},{"t":889.0,"v":0.3},{"t":889.2,"v":0.33},{"t":889.4,"v":0.28},{"t":889.6,"v":0.32},{"t":889.8,"v":0.29},{"t":890.0,"v":0.26},{"t":890.2,"v":0.3},{"t":890.4,"v":0.24},{"t":890.6,"v":0.27},{"t":890.8,"v":0.21},{"t":891.0,"v":0.24},{"t":891.2,"v":0.2},{"t":891.4,"v":0.22},{"t":891.6,"v":0.17},{"t":891.8,"v":0.19},{"t":892.0,"v":0.15},{"t":892.2,"v":0.17},{"t":892.4,"v":0.13},{"t":892.6,"v":0.16},{"t":892.8,"v":0.12},{"t":893.0,"v":0.15},{"t":893.2,"v":0.13},{"t":893.4,"v":0.16},{"t":893.6,"v":0.14},{"t":893.8,"v":0.12},{"t":894.0,"v":0.15},{"t":894.2,"v":0.13},{"t":894.4,"v":0.16},{"t":894.6,"v":0.14},{"t":894.8,"v":0.17},{"t":895.0,"v":0.12},{"t":895.2,"v":0.1},{"t":895.4,"v":0.11},{"t":895.6,"v":0.09},{"t":895.8,"v":0.11},{"t":896.0,"v":0.08},{"t":896.2,"v":0.1},{"t":896.4,"v":0.07},{"t":896.6,"v":0.09},{"t":896.8,"v":0.08},{"t":897.0,"v":0.1},{"t":897.2,"v":0.07},{"t":897.4,"v":0.09},{"t":897.6,"v":0.06},{"t":897.8,"v":0.08},{"t":898.0,"v":0.07},{"t":898.2,"v":0.05},{"t":898.4,"v":0.07},{"t":898.6,"v":0.06},{"t":898.8,"v":0.05},{"t":899.0,"v":0.07},{"t":899.2,"v":0.06},{"t":899.4,"v":0.08},{"t":899.6,"v":0.06},{"t":899.8,"v":0.07},{"t":900.0,"v":0.08}
]
},
"concat": [
{
  "width": 431, "height": 189,
  "title": {"text": "(a) \u00a0\u00a0\u00a0Velocity \u00a0\u00a0\u00a0profile \u00a0\u00a0\u00a0at \u00a0\u00a0\u00a065 \u00a0\u00a0\u00a0m \u00a0\u00a0\u00a0with \u00a0\u00a0\u00a0jet \u00a0\u00a0\u00a0fan \u00a0\u00a0\u00a0operation", "dx": -26},
  "data": {"name": "a"},
  "mark": {"type": "point", "filled": true, "size": 9, "color": "#000", "opacity": 1},
  "encoding": {
    "x": {"field": "t", "type": "quantitative", "scale": {"domain": [620, 700], "nice": false, "zero": false},
      "axis": {"title": "Measurement times", "values": [620,625,630,635,640,645,650,655,660,665,670,675,680,685,690,695,700],
        "labelExpr": "datum.value % 10 == 0 ? (datum.value < 600 ? '0' : '') + floor(datum.value / 60) + ':' + (datum.value % 60 < 10 ? '0' : '') + (datum.value % 60) : ''"}},
    "y": {"field": "v", "type": "quantitative", "scale": {"domain": [0, 3], "nice": false},
      "axis": {"title": "Velocity (m/s)", "values": [0, 0.5, 1, 1.5, 2, 2.5, 3], "format": ".1f"}}
  }
},
{
  "width": 415, "height": 189,
  "title": {"text": "(b) \u00a0\u00a0\u00a0\u00a0Velocity \u00a0\u00a0\u00a0\u00a0profile \u00a0\u00a0\u00a0at \u00a0\u00a0\u00a0\u00a065 \u00a0\u00a0\u00a0\u00a0m \u00a0\u00a0\u00a0with \u00a0\u00a0\u00a0\u00a0propeller \u00a0\u00a0\u00a0\u00a0fan \u00a0\u00a0\u00a0operation", "dx": -53},
  "data": {"name": "b"},
  "mark": {"type": "point", "filled": true, "size": 9, "color": "#000", "opacity": 1},
  "encoding": {
    "x": {"field": "t", "type": "quantitative", "scale": {"domain": [640, 770], "nice": false, "zero": false},
      "axis": {"title": "Measurement times", "values": [640,645,650,655,660,665,670,675,680,685,690,695,700,705,710,715,720,725,730,735,740,745,750,755,760,765,770],
        "labelExpr": "datum.value % 10 == 0 ? (datum.value < 600 ? '0' : '') + floor(datum.value / 60) + ':' + (datum.value % 60 < 10 ? '0' : '') + (datum.value % 60) : ''"}},
    "y": {"field": "v", "type": "quantitative", "scale": {"domain": [0, 3], "nice": false},
      "axis": {"title": "Velocity (m/s)", "values": [0, 0.5, 1, 1.5, 2, 2.5, 3], "format": ".1f"}}
  }
},
{
  "width": 431, "height": 190,
  "title": {"text": "(c) \u00a0\u00a0\u00a0Velocity \u00a0\u00a0\u00a0profile \u00a0\u00a0at \u00a0\u00a0\u00a0120 \u00a0\u00a0\u00a0m \u00a0\u00a0with \u00a0\u00a0\u00a0jet \u00a0\u00a0\u00a0fan \u00a0\u00a0\u00a0operation", "dx": -26},
  "data": {"name": "c"},
  "mark": {"type": "point", "filled": true, "size": 9, "color": "#000", "opacity": 1},
  "encoding": {
    "x": {"field": "t", "type": "quantitative", "scale": {"domain": [530, 630], "nice": false, "zero": false},
      "axis": {"title": "Measurement times", "values": [530,535,540,545,550,555,560,565,570,575,580,585,590,595,600,605,610,615,620,625,630],
        "labelExpr": "datum.value % 10 == 0 ? (datum.value < 600 ? '0' : '') + floor(datum.value / 60) + ':' + (datum.value % 60 < 10 ? '0' : '') + (datum.value % 60) : ''"}},
    "y": {"field": "v", "type": "quantitative", "scale": {"domain": [0, 3], "nice": false},
      "axis": {"title": "Velocity (m/s)", "values": [0, 0.5, 1, 1.5, 2, 2.5, 3], "format": ".1f"}}
  }
},
{
  "width": 415, "height": 190,
  "title": {"text": "(d) \u00a0\u00a0\u00a0\u00a0Velocity \u00a0\u00a0\u00a0profile \u00a0\u00a0\u00a0at \u00a0\u00a0\u00a0\u00a0120 \u00a0\u00a0\u00a0m \u00a0\u00a0\u00a0with \u00a0\u00a0\u00a0\u00a0propeller \u00a0\u00a0\u00a0fan \u00a0\u00a0\u00a0operation", "dx": -52},
  "data": {"name": "d"},
  "mark": {"type": "point", "filled": true, "size": 9, "color": "#000", "opacity": 1},
  "encoding": {
    "x": {"field": "t", "type": "quantitative", "scale": {"domain": [850, 900], "nice": false, "zero": false},
      "axis": {"title": "Measurement times", "values": [850,852.5,855,857.5,860,862.5,865,867.5,870,872.5,875,877.5,880,882.5,885,887.5,890,892.5,895,897.5,900],
        "labelExpr": "datum.value % 5 == 0 ? (datum.value < 600 ? '0' : '') + floor(datum.value / 60) + ':' + (datum.value % 60 < 10 ? '0' : '') + (datum.value % 60) : ''"}},
    "y": {"field": "v", "type": "quantitative", "scale": {"domain": [0, 3], "nice": false},
      "axis": {"title": "Velocity (m/s)", "values": [0, 0.5, 1, 1.5, 2, 2.5, 3], "format": ".1f"}}
  }
}
]
}
